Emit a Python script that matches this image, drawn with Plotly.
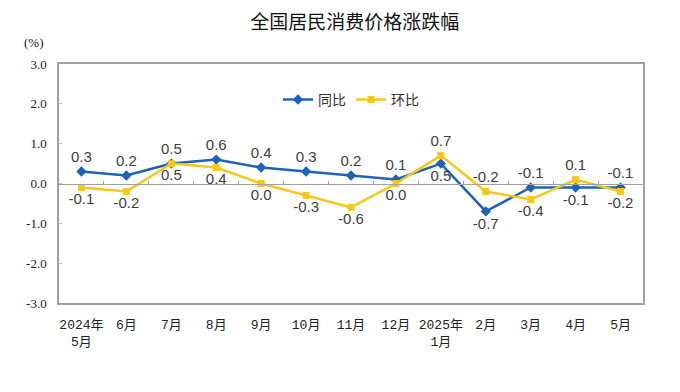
import plotly.graph_objects as go

categories = ["2024年<br>5月", "6月", "7月", "8月", "9月", "10月", "11月", "12月",
              "2025年<br>1月", "2月", "3月", "4月", "5月"]
yoy = [0.3, 0.2, 0.5, 0.6, 0.4, 0.3, 0.2, 0.1, 0.5, -0.7, -0.1, -0.1, -0.1]
mom = [-0.1, -0.2, 0.5, 0.4, 0.0, -0.3, -0.6, 0.0, 0.7, -0.2, -0.4, 0.1, -0.2]
yoy_pos = ["top center"] * 8 + ["bottom center", "bottom center", "top center", "bottom center", "top center"]
mom_pos = ["bottom center"] * 8 + ["top center", "top center", "bottom center", "top center", "bottom center"]
yticks = [3.0, 2.0, 1.0, 0.0, -1.0, -2.0, -3.0]

xs = list(range(len(categories)))
blue = "#1f64b4"
yellow = "#f4c81e"
label_font = dict(family="Liberation Sans, Arial, sans-serif", size=15, color="#404040")

fig = go.Figure()
fig.add_trace(go.Scatter(
    x=xs, y=yoy, name="同比", mode="lines+markers+text",
    line=dict(color=blue, width=2.5), marker=dict(symbol="diamond", size=8, color=blue),
    text=[f"{v:.1f}" for v in yoy], textposition=yoy_pos, textfont=label_font,
))
fig.add_trace(go.Scatter(
    x=xs, y=mom, name="环比", mode="lines+markers+text",
    line=dict(color=yellow, width=2.5), marker=dict(symbol="square", size=7, color=yellow),
    text=[f"{v:.1f}" for v in mom], textposition=mom_pos, textfont=label_font,
))
# zero axis with category boundary ticks
fig.add_trace(go.Scatter(x=[0], y=[0], xaxis="x2", mode="markers",
                         marker=dict(opacity=0), showlegend=False, hoverinfo="skip"))

axis_font = dict(family="Liberation Serif, Noto Sans CJK SC, serif", size=13, color="#222")
xtick_font = dict(family="Liberation Mono, Noto Sans CJK SC, monospace", size=13, color="#222")
fig.update_layout(
    width=680, height=392,
    margin=dict(l=51, r=45, t=56, b=97, autoexpand=False),
    paper_bgcolor="white", plot_bgcolor="white",
    title=dict(text="全国居民消费价格涨跌幅", x=0.51, xanchor="center", y=0.964, yanchor="middle",
               font=dict(family="Noto Sans CJK SC, sans-serif", size=19, color="#111")),
    xaxis=dict(range=[-0.5, 12.5], tickmode="array", tickvals=xs, ticktext=categories,
               showgrid=False, zeroline=False, showline=True, linecolor="#a0a0a0", linewidth=1.5,
               mirror=True, ticks="", tickfont=xtick_font, automargin=False,
               ticklabelstandoff=9),
    xaxis2=dict(range=[-0.5, 12.5], overlaying="x", anchor="free", position=0.5,
                tickmode="array", tickvals=[i + 0.5 for i in range(12)], ticks="inside",
                ticklen=3, tickcolor="#a0a0a0", showticklabels=False, showgrid=False,
                zeroline=False, showline=True, linecolor="#a0a0a0", linewidth=1, automargin=False),
    yaxis=dict(range=[-3, 3], tickmode="array", tickvals=yticks,
               ticktext=[f"{v:.1f}" for v in yticks], showgrid=False, zeroline=False,
               showline=True, linecolor="#a0a0a0", linewidth=1.5, mirror=True,
               ticks="inside", ticklen=3, tickcolor="#c0c0c0", tickfont=axis_font,
               ticklabelstandoff=8, automargin=False),
    legend=dict(orientation="h", x=0.5, xanchor="center", y=0.85, yanchor="middle",
                font=dict(family="Noto Sans CJK SC, sans-serif", size=14, color="#333"),
                bgcolor="rgba(0,0,0,0)"),
    showlegend=True,
)
fig.add_annotation(text="(%)", xref="paper", yref="paper", x=-0.043, y=1.09,
                   xanchor="center", yanchor="middle", showarrow=False, font=axis_font)
fig.write_html("out.html")
